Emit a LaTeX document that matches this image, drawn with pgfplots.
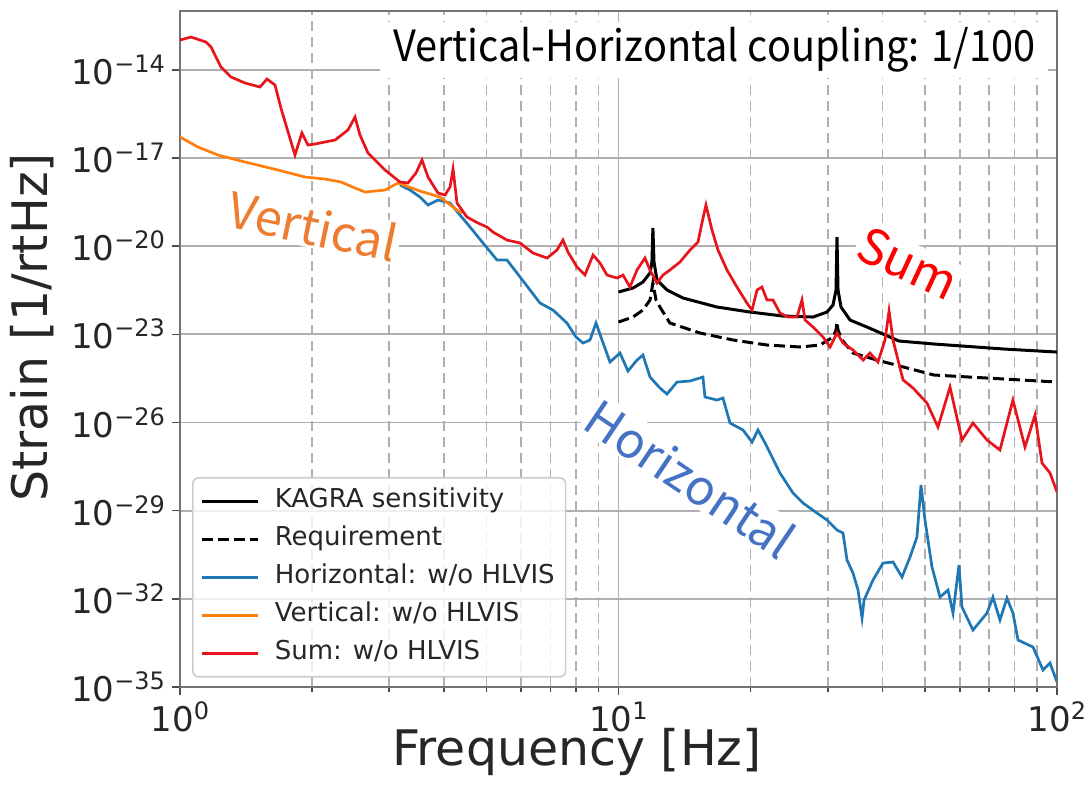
\documentclass[border=0pt]{standalone}
\usepackage{pgfplots}
\pgfplotsset{compat=1.18}
\usepackage{graphicx}
\usepackage{fontspec}
\setmainfont{DejaVu Sans}
\newfontfamily\jp{Noto Sans CJK JP}
\definecolor{mplblue}{HTML}{1F77B4}
\definecolor{mplorange}{HTML}{FF7F0E}
\definecolor{sumred}{HTML}{E8141C}
\definecolor{annorange}{HTML}{ED7D31}
\definecolor{annblue}{HTML}{4472C4}
\definecolor{annred}{HTML}{FF0000}
\definecolor{gridgray}{HTML}{B0B0B0}
\newcommand{\pw}[1]{\raisebox{6pt}{\fontsize{12}{12}\selectfont #1}}
\begin{document}
\begin{tikzpicture}
\begin{axis}[
  scale only axis, width=438.5pt, height=338pt,
  xmode=log, ymode=log,
  xmin=1, xmax=100, ymin=1e-35, ymax=1e-12,
  xtick={1,10,100},
  xticklabels={10\pw{0},10\pw{1},10\pw{2}},
  minor xtick={2,3,4,5,6,7,8,9,20,30,40,50,60,70,80,90},
  ytick={1e-35,1e-32,1e-29,1e-26,1e-23,1e-20,1e-17,1e-14},
  yticklabels={10\pw{−35},10\pw{−32},10\pw{−29},10\pw{−26},10\pw{−23},10\pw{−20},10\pw{−17},10\pw{−14}},
  yminorticks=false,
  xmajorgrids, xminorgrids, ymajorgrids, yminorgrids=false,
  major grid style={solid, gridgray, line width=0.9pt},
  minor grid style={gridgray, line width=0.9pt, dash pattern=on 5pt off 3pt},
  tick align=outside, xtick pos=bottom, ytick pos=left,
  major tick length=4pt, minor tick length=2.5pt,
  every tick/.style={black!70, line width=0.8pt},
  axis line style={black!55, line width=1pt},
  tick label style={font=\fontsize{17}{17}\selectfont, text=black!85},
  xlabel={Frequency [Hz]}, ylabel={Strain [1/rtHz]},
  every axis x label/.style={at={(axis description cs:0.4527,-0.0962)}, anchor=center},
  every axis y label/.style={at={(axis description cs:-0.1688,0.532)}, rotate=90, anchor=center},
  label style={font=\fontsize{24.5}{24.5}\selectfont, text=black!85},
  legend cell align=left,
  legend image code/.code={\draw[#1] (0pt,0pt) -- (28pt,0pt); \path (34pt,0pt);},
  legend style={at={(rel axis cs:0.0137,0.3107)}, anchor=north west,
    font=\fontsize{13}{13}\selectfont, text=black!85,
    draw=black!20, line width=0.8pt, fill=white, fill opacity=0.8, text opacity=1, draw opacity=1,
    rounded corners=3pt, inner xsep=4pt, inner ysep=4pt, row sep=3.5pt,
    nodes={inner sep=1.5pt, text height=9.5pt, text depth=3pt}},
]
\addplot[black, line width=1.5pt] table[x=f, y=s] {
f s
10.0 2.75e-22
10.79 3.76e-22
11.37 6.01e-22
11.80 1.22e-21
11.92 2.88e-21
11.98 4.14e-20
12.05 2.88e-21
12.24 7.03e-22
12.90 3.21e-22
14.03 1.72e-22
16.77 8.49e-23
19.95 5.73e-23
23.72 4.19e-23
27.77 3.87e-23
29.89 5.73e-23
30.85 9.93e-23
31.34 3.21e-22
31.50 2.04e-20
31.67 3.21e-22
32.17 8.49e-23
33.73 3.06e-23
36.87 1.77e-23
43.62 5.92e-24
52.42 4.68e-24
75.70 3.16e-24
100 2.49e-24
};
\addlegendentry{KAGRA sensitivity}
\addplot[black, line width=1.5pt, dash pattern=on 5.5pt off 2.5pt] table[x=f, y=s] {
f s
10.0 2.62e-23
10.79 3.87e-23
11.37 6.71e-23
11.80 1.47e-22
11.98 5.56e-22
12.18 1.47e-22
12.43 8.49e-23
13.10 2.42e-23
15.34 1.11e-23
18.25 6.40e-24
21.81 4.33e-24
25.94 3.70e-24
28.81 4.33e-24
30.85 8.09e-24
31.34 1.40e-23
31.50 2.62e-23
31.67 1.40e-23
32.34 6.40e-24
34.26 2.31e-24
38.86 1.33e-24
52.42 4.12e-25
100 2.38e-25
};
\addlegendentry{Requirement}
\addplot[mplblue, line width=1.35pt] table[x=f, y=s] {
f s
3.175 1.20e-18
3.346 8.11e-19
3.526 4.69e-19
3.678 2.51e-19
3.876 3.71e-19
4.129 2.93e-19
4.349 1.15e-19
4.585 4.48e-20
4.909 1.28e-20
5.284 3.37e-21
5.568 3.37e-21
5.870 1.22e-21
6.284 3.21e-22
6.622 1.16e-22
7.088 6.71e-23
7.630 2.42e-23
8.000 8.09e-24
8.299 5.06e-24
8.610 6.40e-24
8.886 2.42e-23
9.171 6.40e-24
9.564 1.14e-24
10.08 2.31e-24
10.51 5.64e-25
11.02 1.33e-24
11.37 1.97e-24
11.80 3.52e-25
12.43 1.49e-25
12.90 9.29e-26
13.60 2.38e-25
14.56 2.58e-25
15.58 3.52e-25
15.75 7.35e-26
16.77 5.81e-26
17.31 6.79e-26
17.96 9.59e-27
19.23 5.55e-27
20.16 2.16e-27
20.80 5.55e-27
21.59 2.00e-27
23.35 1.91e-28
25.00 3.98e-29
26.35 1.82e-29
28.36 8.30e-30
29.89 4.80e-30
31.50 2.19e-30
32.51 1.73e-30
33.20 2.09e-31
34.26 7.55e-32
35.18 1.99e-32
35.93 2.22e-33
36.31 9.10e-33
38.06 4.36e-32
40.11 1.65e-31
42.27 1.79e-31
44.32 5.52e-32
46.22 2.64e-31
47.94 1.27e-30
48.96 7.45e-29
50.00 4.80e-30
51.87 1.21e-31
54.11 1.15e-32
56.42 1.99e-32
57.92 3.29e-33
59.77 1.41e-31
60.72 5.26e-33
64.33 8.67e-34
69.25 3.29e-33
71.45 1.15e-32
74.13 1.90e-33
76.91 1.06e-32
79.36 3.29e-33
81.49 3.96e-34
88.16 2.29e-34
92.92 3.78e-35
96.39 6.55e-35
100 1.48e-35
};
\addlegendentry{Horizontal: w/o HLVIS}
\addplot[mplorange, line width=1.35pt] table[x=f, y=s] {
f s
1.000 5.16e-17
1.099 2.36e-17
1.221 1.26e-17
1.407 7.28e-18
1.673 3.89e-18
1.928 2.25e-18
2.141 1.92e-18
2.329 1.52e-18
2.507 9.48e-19
2.642 6.93e-19
2.935 8.11e-19
3.142 1.41e-18
3.526 7.50e-19
3.916 4.69e-19
4.283 1.69e-19
4.396 1.34e-19
};
\addlegendentry{Vertical: w/o HLVIS}
\addplot[sumred, line width=1.35pt] table[x=f, y=s] {
f s
1.000 1.03e-13
1.060 1.30e-13
1.146 8.81e-14
1.177 5.96e-14
1.240 1.24e-14
1.307 5.68e-15
1.407 3.55e-15
1.522 2.59e-15
1.579 4.85e-15
1.647 3.03e-15
1.699 5.01e-16
1.829 1.26e-17
1.897 7.06e-17
1.958 2.76e-17
2.032 2.99e-17
2.257 4.08e-17
2.416 8.93e-17
2.507 2.47e-16
2.573 6.04e-17
2.684 1.47e-17
2.935 3.89e-18
3.175 1.52e-18
3.311 1.41e-18
3.453 3.08e-18
3.564 8.51e-18
3.678 2.25e-18
3.876 6.41e-19
4.022 5.48e-19
4.129 1.03e-18
4.195 4.21e-18
4.283 2.93e-19
4.512 9.79e-20
4.782 6.12e-20
5.013 4.48e-20
5.173 3.02e-20
5.568 1.61e-20
5.964 1.28e-20
6.383 5.83e-21
6.871 3.94e-21
7.240 7.38e-21
7.472 1.61e-20
7.672 6.31e-21
8.041 1.95e-21
8.386 1.04e-21
8.748 4.99e-21
9.075 2.67e-21
9.414 1.04e-21
9.922 8.22e-22
10.24 1.04e-21
10.62 4.06e-22
11.02 1.54e-21
11.49 3.94e-21
11.80 1.54e-21
12.24 5.56e-22
12.63 1.04e-21
13.10 1.54e-21
13.81 2.88e-21
14.56 7.38e-21
15.18 1.38e-20
15.50 6.12e-20
15.83 2.51e-19
16.34 3.53e-20
16.86 7.38e-21
17.68 1.54e-21
18.63 4.06e-22
19.63 1.16e-22
20.16 6.71e-23
20.70 3.21e-22
21.24 4.06e-22
21.81 1.47e-22
22.51 1.47e-22
23.35 5.30e-23
24.35 3.87e-23
25.53 3.87e-23
26.21 1.47e-22
26.63 3.06e-23
27.77 1.77e-23
29.27 8.09e-24
30.37 3.70e-24
31.50 1.11e-23
32.51 5.06e-24
34.26 2.92e-24
36.12 1.33e-24
37.46 2.31e-24
39.07 1.14e-24
40.53 6.40e-24
41.40 6.21e-23
42.27 6.40e-24
44.56 2.79e-25
46.96 1.49e-25
50.52 4.59e-26
53.53 7.01e-27
57.02 1.61e-25
60.72 2.53e-27
64.33 9.59e-27
69.25 2.53e-27
74.13 1.16e-27
79.36 5.81e-26
84.53 1.46e-27
89.09 1.79e-26
92.43 4.18e-28
96.39 1.91e-28
100 4.31e-29
};
\addlegendentry{Sum: w/o HLVIS}
\node[fill=white, inner sep=0pt, minimum width=334pt, minimum height=28pt] at (rel axis cs:0.609,0.942)
  {\resizebox{321pt}{\height}{\jp\fontsize{21.5}{21.5}\selectfont Vertical-Horizontal coupling: 1/100}};
\node[fill=white, inner sep=1pt, rotate=-12, text=annorange] at (rel axis cs:0.152,0.682)
  {\jp\fontsize{24.5}{24.5}\selectfont Vertical};
\node[fill=white, inner sep=1pt, rotate=-25, text=annred] at (rel axis cs:0.830,0.627)
  {\jp\fontsize{24.5}{24.5}\selectfont Sum};
\node[fill=white, inner sep=1pt, rotate=-34, text=annblue] at (rel axis cs:0.582,0.309)
  {\jp\fontsize{24.5}{24.5}\selectfont Horizontal};
\end{axis}
\pgfresetboundingbox
\path ([shift={(-90pt,-49pt)}]current axis.south west) rectangle ([shift={(17pt,5.5pt)}]current axis.north east);
\end{tikzpicture}
\end{document}
